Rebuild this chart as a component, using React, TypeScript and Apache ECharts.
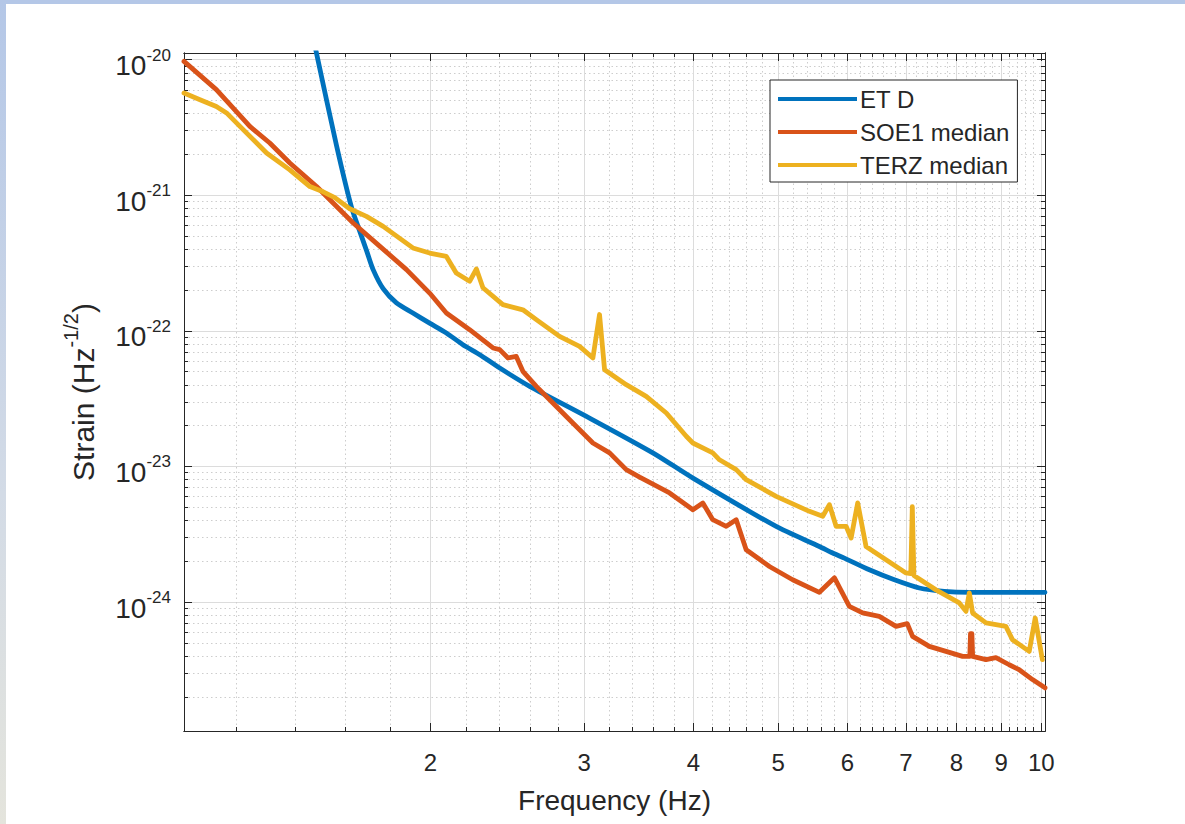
import React, { useEffect, useRef } from "react";
import * as echarts from "echarts";

// ---------- data ----------
const etdFreq = [1.478, 1.562, 1.624, 1.661, 1.692, 1.72, 1.766, 1.829, 1.91, 1.996, 2.086, 2.179, 2.278, 2.401, 2.598, 3.017, 3.594, 3.995, 4.974, 5.574, 5.773, 5.953, 6.358, 6.792, 7.254, 7.746, 8.274, 10.1];
const etdStrain = [1.2e-20, 2.32e-21, 8.24e-22, 5.39e-22, 3.84e-22, 2.83e-22, 2.05e-22, 1.61e-22, 1.355e-22, 1.14e-22, 9.65e-23, 7.91e-23, 6.67e-23, 5.32e-23, 3.9e-23, 2.34e-23, 1.26e-23, 8.2e-24, 3.61e-24, 2.57e-24, 2.3e-24, 2.11e-24, 1.73e-24, 1.46e-24, 1.27e-24, 1.2e-24, 1.18e-24, 1.18e-24];

const soeFreq = [1.045, 1.138, 1.243, 1.31, 1.381, 1.482, 1.548, 1.632, 1.751, 1.878, 1.996, 2.086, 2.218, 2.359, 2.401, 2.454, 2.508, 2.552, 2.644, 2.762, 2.886, 3.069, 3.207, 3.351, 3.471, 3.756, 3.994, 4.1, 4.209, 4.361, 4.477, 4.596, 4.887, 5.195, 5.574, 5.8, 6.032, 6.247, 6.527, 6.822, 7.026, 7.125, 7.446, 7.781, 8.129, 8.285, 8.3, 8.33, 8.347, 8.646, 8.875, 9.191, 9.437, 9.773, 10.1];
const soeStrain = [9.71e-21, 6.01e-21, 3.22e-21, 2.43e-21, 1.73e-21, 1.16e-21, 8.77e-22, 6.25e-22, 4.2e-22, 2.83e-22, 1.9e-22, 1.355e-22, 1.02e-22, 7.48e-23, 7.27e-23, 6.31e-23, 6.48e-23, 5.03e-23, 3.9e-23, 2.94e-23, 2.21e-23, 1.49e-23, 1.26e-23, 9.47e-24, 8.34e-24, 6.38e-24, 4.8e-24, 5.38e-24, 4.05e-24, 3.62e-24, 4.05e-24, 2.43e-24, 1.83e-24, 1.46e-24, 1.18e-24, 1.51e-24, 9.3e-25, 8.31e-25, 7.85e-25, 6.62e-25, 6.93e-25, 5.59e-25, 4.71e-25, 4.33e-25, 3.98e-25, 3.98e-25, 5.85e-25, 5.85e-25, 3.98e-25, 3.76e-25, 3.89e-25, 3.45e-25, 3.17e-25, 2.68e-25, 2.33e-25];

const terzFreq = [1.045, 1.09, 1.138, 1.169, 1.211, 1.299, 1.381, 1.456, 1.508, 1.555, 1.617, 1.69, 1.766, 1.91, 1.996, 2.086, 2.141, 2.218, 2.258, 2.297, 2.421, 2.552, 2.644, 2.811, 2.963, 3.069, 3.123, 3.165, 3.351, 3.532, 3.724, 3.925, 3.994, 4.209, 4.284, 4.477, 4.596, 4.974, 5.429, 5.623, 5.723, 5.825, 5.98, 6.06, 6.166, 6.303, 6.643, 7.002, 7.092, 7.12, 7.15, 7.578, 8.059, 8.202, 8.274, 8.346, 8.646, 9.111, 9.27, 9.689, 9.843, 10.03];
const terzStrain = [5.68e-21, 5.07e-21, 4.52e-21, 4.05e-21, 3.22e-21, 2.05e-21, 1.54e-21, 1.16e-21, 1.06e-21, 9.6e-22, 7.96e-22, 6.99e-22, 5.9e-22, 4.09e-22, 3.75e-22, 3.54e-22, 2.67e-22, 2.32e-22, 2.86e-22, 2.08e-22, 1.56e-22, 1.43e-22, 1.21e-22, 9.11e-23, 7.69e-23, 6.31e-23, 1.32e-22, 5.17e-23, 4.01e-23, 3.29e-23, 2.48e-23, 1.67e-23, 1.49e-23, 1.26e-23, 1.12e-23, 9.47e-24, 7.99e-24, 6.02e-24, 4.67e-24, 4.29e-24, 5.23e-24, 3.62e-24, 3.62e-24, 2.97e-24, 5.38e-24, 2.57e-24, 2.05e-24, 1.64e-24, 1.62e-24, 5.05e-24, 1.57e-24, 1.23e-24, 9.85e-25, 8.54e-25, 1.17e-24, 8.31e-25, 7.02e-25, 6.62e-25, 5.28e-25, 4.33e-25, 7.63e-25, 3.76e-25];

const seriesNames = ["ET D", "SOE1 median", "TERZ median"];
const seriesColors = ["#0072BD", "#D95319", "#EDB120"];

const xMajorTicks = [2, 3, 4, 5, 6, 7, 8, 9, 10];
const xMinorTicks = [1.2, 1.4, 1.6, 1.8, 2.2, 2.4, 2.6, 2.8, 3.2, 3.4, 3.6, 3.8, 4.2, 4.4, 4.6, 4.8, 5.2, 5.4, 5.6, 5.8, 6.2, 6.4, 6.6, 6.8, 7.2, 7.4, 7.6, 7.8, 8.2, 8.4, 8.6, 8.8, 9.2, 9.4, 9.6, 9.8];
const yMajorTicks = [1e-24, 1e-23, 1e-22, 1e-21, 1e-20];
const yMinorTicks = [
  2e-25, 3e-25, 4e-25, 5e-25, 6e-25, 7e-25, 8e-25, 9e-25,
  2e-24, 3e-24, 4e-24, 5e-24, 6e-24, 7e-24, 8e-24, 9e-24,
  2e-23, 3e-23, 4e-23, 5e-23, 6e-23, 7e-23, 8e-23, 9e-23,
  2e-22, 3e-22, 4e-22, 5e-22, 6e-22, 7e-22, 8e-22, 9e-22,
  2e-21, 3e-21, 4e-21, 5e-21, 6e-21, 7e-21, 8e-21, 9e-21,
];

const X_MIN = 1.045;
const X_MAX = 10.1;
const Y_MIN = 1.12e-25;
const Y_MAX = 1.12e-20;

const FONT = "'Liberation Sans', Arial, Helvetica, sans-serif";
const AXIS_COLOR = "#262626";

function zip(xs: number[], ys: number[]) {
  return xs.map((x, i) => [x, ys[i]]);
}

function xAxisDef(position: "bottom" | "top", major: boolean, main: boolean) {
  return {
    type: "log",
    logBase: 10,
    min: X_MIN,
    max: X_MAX,
    gridIndex: 0,
    position,
    axisLine: { show: true, onZero: false, lineStyle: { color: AXIS_COLOR, width: 1 } },
    axisTick: {
      show: true,
      inside: true,
      length: major ? 8 : 4,
      customValues: major ? xMajorTicks : xMinorTicks,
      lineStyle: { color: AXIS_COLOR, width: 1 },
    },
    minorTick: { show: false },
    axisLabel: main
      ? { show: true, customValues: xMajorTicks, margin: 19, fontSize: 24, color: AXIS_COLOR, fontFamily: FONT, formatter: (v: number) => String(Math.round(v)) }
      : { show: false },
    splitLine:
      position === "bottom"
        ? {
            show: true,
            lineStyle: major
              ? { color: "#dcdcdc", width: 1, type: "solid" }
              : { color: "#cdcdcd", width: 1, type: [1.5, 3] },
          }
        : { show: false },
    minorSplitLine: { show: false },
    ...(main
      ? {
          name: "Frequency (Hz)",
          nameLocation: "middle",
          nameGap: 55,
          nameTextStyle: { fontSize: 28, color: AXIS_COLOR, fontFamily: FONT },
        }
      : {}),
  };
}

function yAxisDef(position: "left" | "right", major: boolean, main: boolean) {
  return {
    type: "log",
    logBase: 10,
    min: Y_MIN,
    max: Y_MAX,
    gridIndex: 0,
    position,
    axisLine: { show: true, onZero: false, lineStyle: { color: AXIS_COLOR, width: 1 } },
    axisTick: {
      show: true,
      inside: true,
      length: major ? 8 : 4,
      customValues: major ? yMajorTicks : yMinorTicks,
      lineStyle: { color: AXIS_COLOR, width: 1 },
    },
    minorTick: { show: false },
    axisLabel: main
      ? {
          show: true,
          customValues: yMajorTicks,
          margin: 13,
          color: AXIS_COLOR,
          fontFamily: FONT,
          formatter: (v: number) => `{b|10}{s|${Math.round(Math.log10(v))}}`,
          rich: {
            b: { fontSize: 28, fontFamily: FONT, color: AXIS_COLOR, padding: [12, 0, 0, 0], verticalAlign: "bottom" },
            s: { fontSize: 17, fontFamily: FONT, color: AXIS_COLOR, padding: [7, 0, 0, 0], verticalAlign: "top" },
          },
        }
      : { show: false },
    splitLine:
      position === "left"
        ? {
            show: true,
            lineStyle: major
              ? { color: "#dcdcdc", width: 1, type: "solid" }
              : { color: "#cdcdcd", width: 1, type: [1.5, 3] },
          }
        : { show: false },
    minorSplitLine: { show: false },
    ...(main
      ? {
          name: "{a|Strain (Hz}{s|-1/2}{a|)}",
          nameLocation: "middle",
          nameRotate: 90,
          nameGap: 86,
          nameTextStyle: {
            color: AXIS_COLOR,
            fontFamily: FONT,
            rich: {
              a: { fontSize: 30, fontFamily: FONT, color: AXIS_COLOR, padding: [10, 0, 0, 0], verticalAlign: "bottom" },
              s: { fontSize: 20, fontFamily: FONT, color: AXIS_COLOR, padding: [3, 0, 0, 0], verticalAlign: "top" },
            },
          },
        }
      : {}),
  };
}

export default function App() {
  const ref = useRef<HTMLDivElement>(null);

  useEffect(() => {
    if (!ref.current) return;
    const chart = echarts.init(ref.current, undefined, { renderer: "svg" });

    const seriesData = [zip(etdFreq, etdStrain), zip(soeFreq, soeStrain), zip(terzFreq, terzStrain)];

    chart.setOption({
      animation: false,
      backgroundColor: "#ffffff",
      textStyle: { fontFamily: FONT },
      graphic: [
        { type: "rect", left: 0, top: 0, silent: true, shape: { width: 1185, height: 4 }, style: { fill: "#b4c7e7" } },
        {
          type: "rect",
          left: 0,
          top: 0,
          silent: true,
          shape: { width: 6, height: 824 },
          style: {
            fill: new echarts.graphic.LinearGradient(0, 0, 0, 1, [
              { offset: 0, color: "#b4c7e7" },
              { offset: 0.6, color: "#d3dbe6" },
              { offset: 1, color: "#e4e4dc" },
            ]),
          },
        },
      ],
      grid: { left: 184, top: 53, right: 140, bottom: 93, containLabel: false },
      xAxis: [
        xAxisDef("bottom", true, true),
        xAxisDef("bottom", false, false),
        xAxisDef("top", true, false),
        xAxisDef("top", false, false),
      ],
      yAxis: [
        yAxisDef("left", true, true),
        yAxisDef("left", false, false),
        yAxisDef("right", true, false),
        yAxisDef("right", false, false),
      ],
      legend: {
        orient: "vertical",
        left: 770,
        top: 80,
        padding: [7, 8, 5, 8],
        itemGap: 9,
        itemWidth: 79,
        itemHeight: 4,
        icon: "rect",
        backgroundColor: "#ffffff",
        borderColor: AXIS_COLOR,
        borderWidth: 1,
        borderRadius: 0,
        textStyle: { fontSize: 24, color: AXIS_COLOR, fontFamily: FONT, padding: [0, 0, 0, -2] },
        data: seriesNames,
      },
      series: seriesNames.map((name, i) => ({
        name,
        type: "line",
        xAxisIndex: 0,
        yAxisIndex: 0,
        data: seriesData[i],
        showSymbol: false,
        symbol: "none",
        smooth: i === 0 ? 0.25 : false,
        clip: true,
        color: seriesColors[i],
        lineStyle: { width: 4.8, color: seriesColors[i], cap: "round", join: "round" },
        itemStyle: { color: seriesColors[i] },
        z: 3 + i,
      })),
    });

    return () => chart.dispose();
  }, []);

  return (
    <div
      ref={ref}
      style={{ position: "fixed", left: 0, top: 0, width: 1185, height: 824, background: "#fff" }}
    />
  );
}
